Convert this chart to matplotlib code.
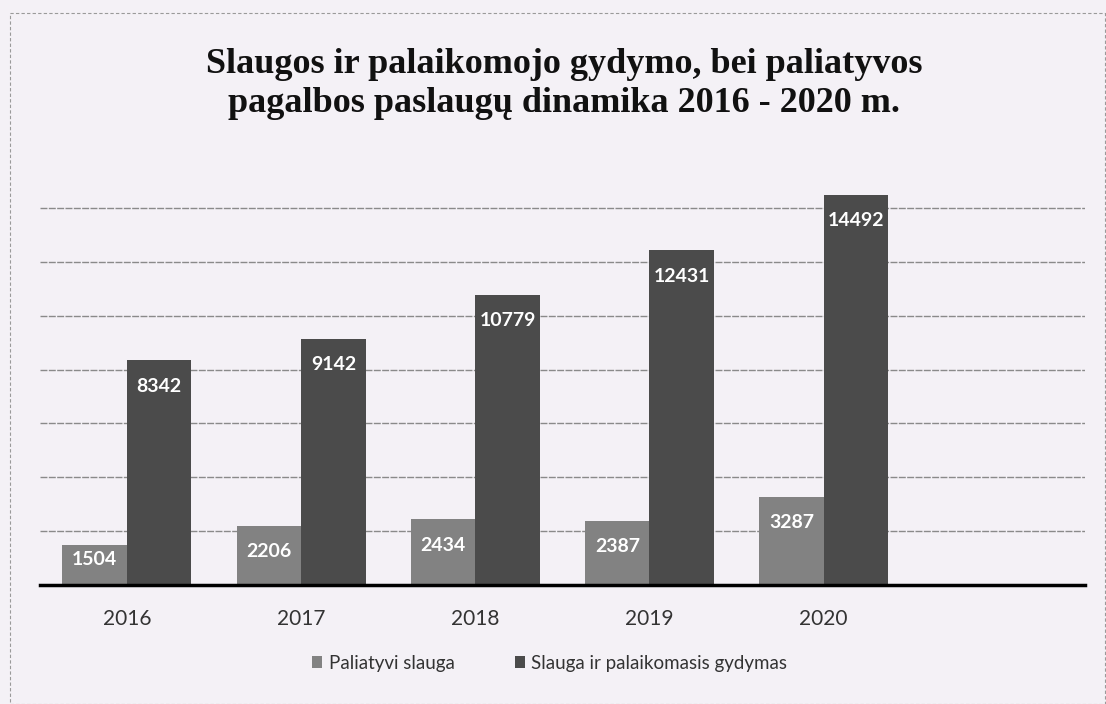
import matplotlib
matplotlib.use("Agg")
import matplotlib.pyplot as plt
from matplotlib.patches import Rectangle
import numpy as np

# duomenys
years = ["2016", "2017", "2018", "2019", "2020"]
paliatyvi = [1504, 2206, 2434, 2387, 3287]
slauga = [8342, 9142, 10779, 12431, 14492]
series_names = ["Paliatyvi slauga", "Slauga ir palaikomasis gydymas"]
title = "Slaugos ir palaikomojo gydymo, bei paliatyvos\npagalbos paslaugų dinamika 2016 - 2020 m."

bg = "#f4f1f6"
c_light = "#828282"
c_dark = "#4b4b4b"

fig = plt.figure(figsize=(11.06, 7.04), dpi=100, facecolor=bg)
ax = fig.add_axes([0.036, 0.169, 0.945, 0.612])
ax.set_facecolor(bg)
ymax = 16000

# 6 kategorijos (paskutinė tuščia, kaip Excel'yje)
x = np.arange(len(years))
w = 0.37
b1 = ax.bar(x - w / 2, paliatyvi, w, color=c_light, label=series_names[0], zorder=3)
b2 = ax.bar(x + w / 2, slauga, w, color=c_dark, label=series_names[1], zorder=3)

# etiketės viduje, prie stulpelio viršaus
ax_h_px = ax.get_position().height * fig.get_figheight() * fig.dpi
for bars in (b1, b2):
    for r in bars:
        v = r.get_height()
        h_px = v / ymax * ax_h_px
        off = min(26, h_px - 26)
        ax.annotate(f"{v:.0f}", (r.get_x() + r.get_width() / 2, v),
                    xytext=(0, -off), textcoords="offset pixels",
                    ha="center", va="center", color="white", fontsize=14,
                    fontweight="bold", family="Lato", zorder=4)

ax.set_xlim(-0.5, len(years) + 0.5)
ax.set_ylim(0, ymax)
ax.set_yticks(np.arange(2000, ymax, 2000))
ax.yaxis.grid(True, color="#8a8a8a", lw=1.0, ls=(0, (5, 1)), zorder=0)
ax.set_yticklabels([])
ax.tick_params(axis="y", length=0)
ax.set_xticks(x)
ax.set_xticklabels(years, fontsize=15, family="Lato", color="#333333")
ax.tick_params(axis="x", length=0, pad=17)
for s in ["top", "right", "left"]:
    ax.spines[s].set_visible(False)
ax.spines["bottom"].set_color("black")
ax.spines["bottom"].set_linewidth(2.5)
ax.spines["bottom"].set_zorder(5)

fig.text(0.51, 0.881, title, ha="center", va="center", fontsize=26,
         fontweight="bold", family="Liberation Serif", linespacing=1.25, color="#111111")

leg = fig.legend(loc="center", bbox_to_anchor=(0.497, 0.058), ncol=2, frameon=False,
                 prop={"family": "Lato", "size": 13.5},
                 handlelength=0.55, handleheight=0.55, handletextpad=0.35, columnspacing=3.2)
for t in leg.get_texts():
    t.set_color("#333333")

# punktyrinis rėmelis aplink diagramą
fig.patches.append(Rectangle((0.009, 0.0), 0.99, 0.982, transform=fig.transFigure,
                             fill=False, ls=(0, (3, 2)), lw=0.8, ec="#9a9a9a"))

fig.savefig("out.png", dpi=100, facecolor=bg)
